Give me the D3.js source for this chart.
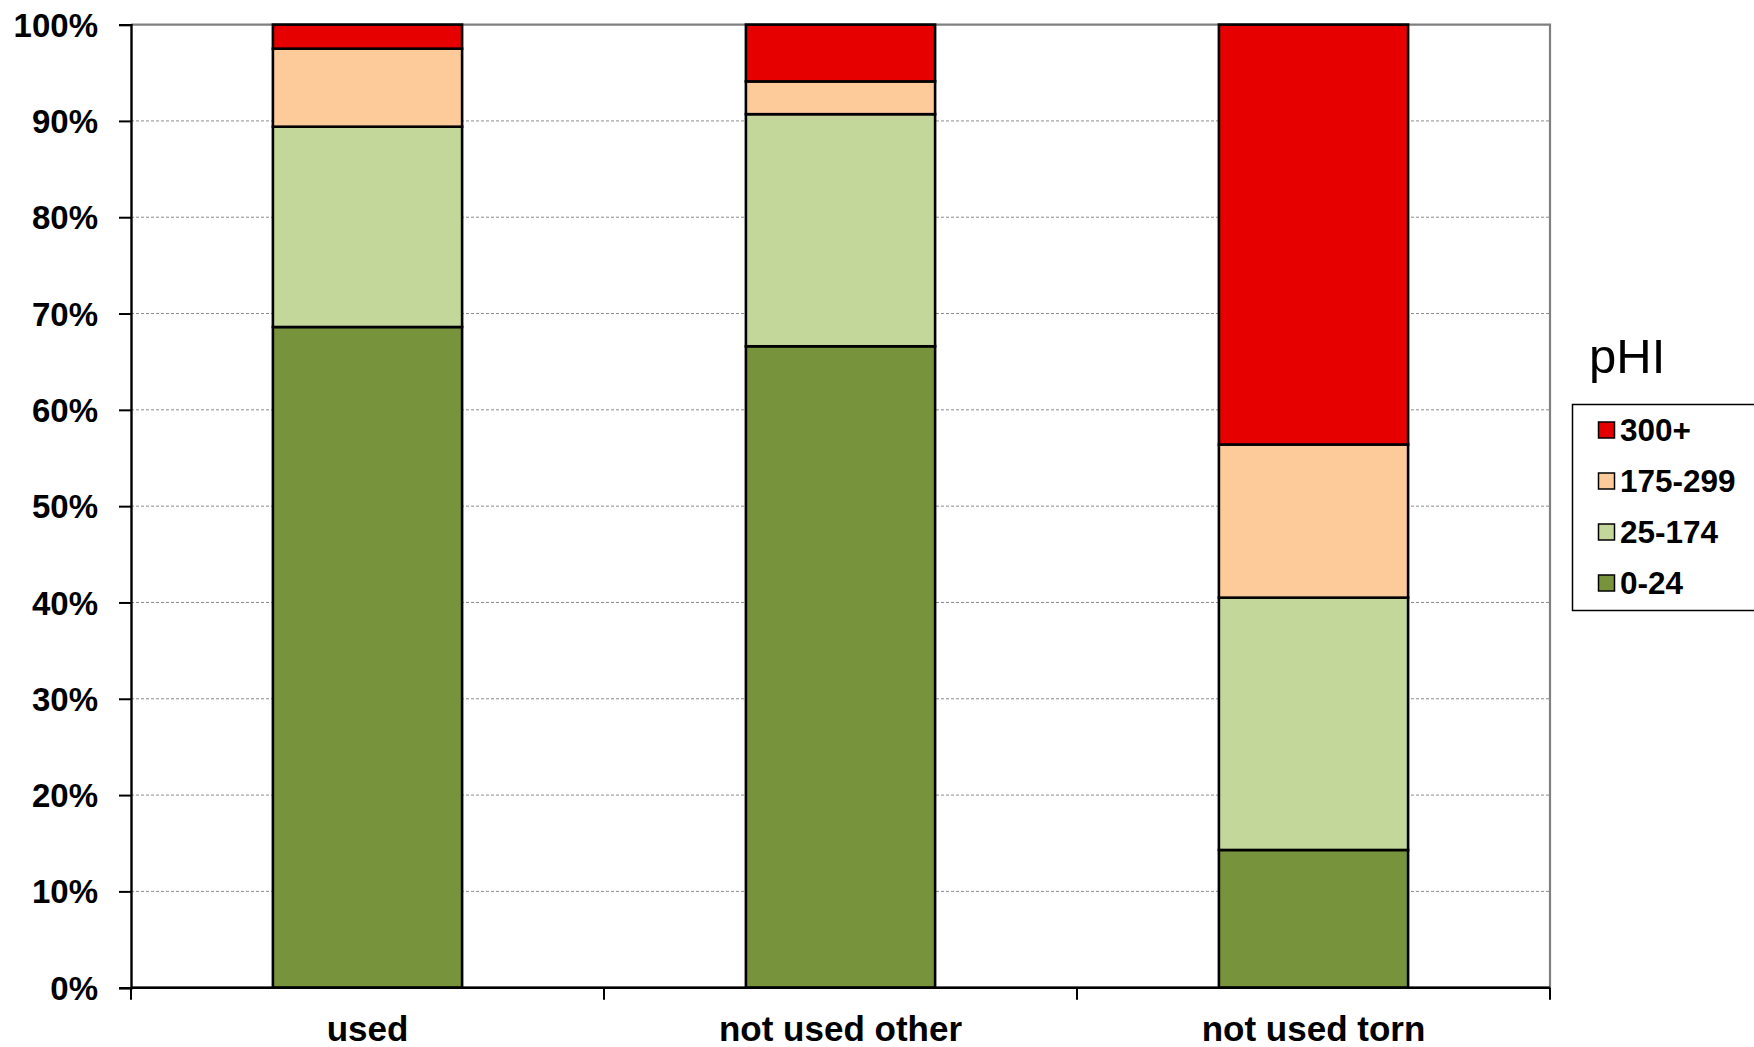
<!DOCTYPE html>
<html>
<head>
<meta charset="utf-8">
<script src="https://cdn.jsdelivr.net/npm/d3@7"></script>
<style>
  html, body { margin: 0; padding: 0; background: #ffffff; }
  svg { display: block; }
  text { font-family: "Liberation Sans", Arial, sans-serif; }
</style>
</head>
<body>
<svg id="chart" width="1754" height="1047"></svg>
<script>
// Share of pHI bands within each usage group (percent, stacked to 100)
const categories = ["used", "not used other", "not used torn"];
const seriesNames = ["0-24", "25-174", "175-299", "300+"];
const band0to24 = [68.6, 66.6, 14.3];
const band25to174 = [20.8, 24.1, 26.2];
const band175to299 = [8.1, 3.4, 15.9];
const band300plus = [2.5, 5.9, 43.6];
const yTicks = [0, 10, 20, 30, 40, 50, 60, 70, 80, 90, 100];
const legendTitle = "pHI";

const colors = {
  "0-24": "#77933c",
  "25-174": "#c4d79b",
  "175-299": "#fdcb9a",
  "300+": "#e60000"
};

const rows = categories.map((c, i) => ({
  category: c,
  "0-24": band0to24[i],
  "25-174": band25to174[i],
  "175-299": band175to299[i],
  "300+": band300plus[i]
}));

const svg = d3.select("#chart");
const plot = { left: 131, right: 1550, top: 24.6, bottom: 987.7 };

const x = d3.scaleBand().domain(categories).range([plot.left, plot.right]).padding(0);
const y = d3.scaleLinear().domain([0, 100]).range([plot.bottom, plot.top]);
const barWidth = x.bandwidth() * 0.40;

// dashed horizontal gridlines
svg.append("g")
  .selectAll("line")
  .data(yTicks.filter(t => t > 0 && t < 100))
  .join("line")
  .attr("x1", plot.left).attr("x2", plot.right)
  .attr("y1", d => y(d)).attr("y2", d => y(d))
  .attr("stroke", "#8c8c8c").attr("stroke-width", 1)
  .attr("stroke-dasharray", "3,2");

// plot area frame (top, right, bottom) in grey
svg.append("path")
  .attr("d", `M${plot.left},${y(100)}H${plot.right}V${y(0)}H${plot.left}`)
  .attr("fill", "none").attr("stroke", "#808080").attr("stroke-width", 2.2);

// stacked bars
const stacked = d3.stack().keys(seriesNames)(rows);
svg.append("g")
  .selectAll("g")
  .data(stacked)
  .join("g")
  .attr("fill", d => colors[d.key])
  .selectAll("rect")
  .data(d => d)
  .join("rect")
  .attr("x", d => x(d.data.category) + (x.bandwidth() - barWidth) / 2)
  .attr("y", d => y(d[1]))
  .attr("width", barWidth)
  .attr("height", d => y(d[0]) - y(d[1]))
  .attr("stroke", "#000")
  .attr("stroke-width", 2.6);

// y axis
const yAxis = d3.axisLeft(y)
  .tickValues(yTicks)
  .tickFormat(d => d + "%")
  .tickSize(12)
  .tickPadding(21);
const gy = svg.append("g")
  .attr("transform", `translate(${plot.left},0)`)
  .call(yAxis);
gy.select(".domain").attr("stroke", "#000").attr("stroke-width", 2.4);
gy.selectAll(".tick line").attr("stroke", "#000").attr("stroke-width", 2);
gy.selectAll(".tick text")
  .attr("fill", "#000")
  .attr("font-size", 33).attr("font-weight", "bold")
  .attr("dy", "0.35em");

// x axis with ticks between categories
const gx = svg.append("g")
  .attr("transform", `translate(0,${plot.bottom})`);
gx.append("line")
  .attr("x1", plot.left).attr("x2", plot.right)
  .attr("y1", 0).attr("y2", 0)
  .attr("stroke", "#000").attr("stroke-width", 2.4);
const boundaries = categories.map(c => x(c)).concat([x(categories[categories.length - 1]) + x.bandwidth()]);
gx.selectAll("line.tick")
  .data(boundaries)
  .join("line")
  .attr("class", "tick")
  .attr("x1", d => d).attr("x2", d => d)
  .attr("y1", 0).attr("y2", 12)
  .attr("stroke", "#000").attr("stroke-width", 2);
gx.selectAll("text")
  .data(categories)
  .join("text")
  .attr("x", d => x(d) + x.bandwidth() / 2)
  .attr("y", 53)
  .attr("text-anchor", "middle")
  .attr("font-size", 35).attr("font-weight", "bold")
  .attr("fill", "#000")
  .text(d => d);

// legend
svg.append("text")
  .attr("x", 1589).attr("y", 373)
  .attr("font-size", 49)
  .attr("fill", "#000")
  .text(legendTitle);

const legend = svg.append("g");
legend.append("rect")
  .attr("x", 1572.5).attr("y", 404.5)
  .attr("width", 220).attr("height", 206)
  .attr("fill", "#ffffff")
  .attr("stroke", "#000").attr("stroke-width", 1.5);

const legendOrder = seriesNames.slice().reverse();
const ly = d3.scalePoint().domain(legendOrder).range([430, 583]);
const items = legend.selectAll("g.item")
  .data(legendOrder)
  .join("g")
  .attr("class", "item")
  .attr("transform", d => `translate(0,${ly(d)})`);
items.append("rect")
  .attr("x", 1598.5).attr("y", -8)
  .attr("width", 16).attr("height", 16)
  .attr("fill", d => colors[d])
  .attr("stroke", "#000").attr("stroke-width", 1.5);
items.append("text")
  .attr("x", 1620).attr("y", 0)
  .attr("dy", "0.36em")
  .attr("font-size", 31.5).attr("font-weight", "bold")
  .attr("fill", "#000")
  .text(d => d);
</script>
</body>
</html>
